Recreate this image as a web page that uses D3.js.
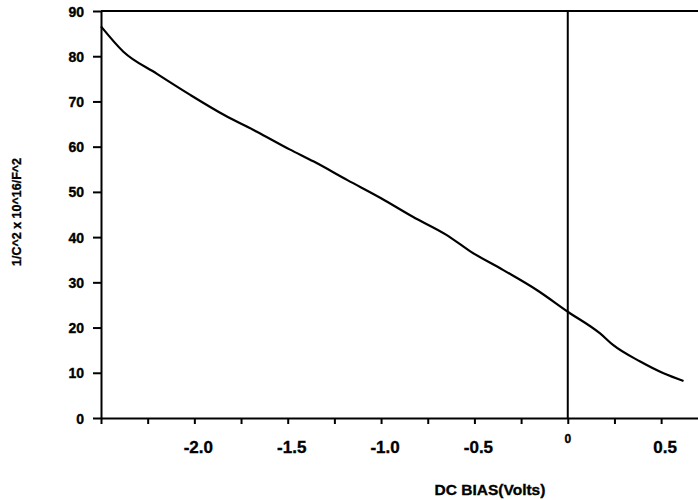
<!DOCTYPE html>
<html><head><meta charset="utf-8">
<script src="https://cdn.jsdelivr.net/npm/d3@7"></script>
<style>
body{margin:0;background:#fff}
text{font-family:"Liberation Sans",Arial,sans-serif;font-weight:bold;fill:#000;stroke:#000;stroke-width:0.35px}
</style></head>
<body>
<svg id="c" width="698" height="500"></svg>
<script>
// DC bias (V) and 1/C^2 (x10^16 F^-2)
const biasVolts = [-2.5, -2.38, -2.2, -2.02, -1.84, -1.665, -1.49, -1.36, -1.18, -1.0, -0.83, -0.65, -0.52, -0.345, -0.166, 0, 0.173, 0.244, 0.388, 0.513, 0.62];
const invCapSq  = [86.6, 81.0, 76.1, 71.4, 67.0, 63.3, 59.4, 56.7, 52.6, 48.6, 44.5, 40.5, 36.8, 32.7, 28.3, 23.5, 18.7, 16.1, 12.5, 9.9, 8.2];

const xTickValues = [-2.5, -2.25, -2.0, -1.75, -1.5, -1.25, -1.0, -0.75, -0.5, -0.25, 0, 0.25, 0.5];
const xLabelValues = [-2.0, -1.5, -1.0, -0.5, 0, 0.5];
const xLabelTexts  = ["-2.0", "-1.5", "-1.0", "-0.5", "0", "0.5"];
const yTickValues = [0, 10, 20, 30, 40, 50, 60, 70, 80, 90];

const xTitle = "DC BIAS(Volts)";
const yTitle = "1/C^2 x 10^16/F^2";

(function () {
const svg = d3.select("#c");
const mLeft = 101, mRight = 698, mTop = 11, mBottom = 418;

const x = d3.scaleLinear().domain([-2.5, 0.6975]).range([mLeft, mRight]);
const y = d3.scaleLinear().domain([0, 90]).range([mBottom, mTop]);

// x axis (ticks only)
const gx = svg.append("g").attr("transform", `translate(0,${mBottom})`)
  .call(d3.axisBottom(x).tickValues(xTickValues).tickSize(6).tickSizeOuter(0).tickFormat(""));
gx.select(".domain").attr("stroke-width", 2);
gx.selectAll(".tick line").attr("stroke-width", 2);

// x labels
svg.append("g").selectAll("text").data(xLabelValues).join("text")
  .attr("x", (d) => x(d) + (d === 0 ? 0 : 4))
  .attr("y", (d) => d === 0 ? 443 : 453)
  .attr("text-anchor", "middle")
  .attr("font-size", (d) => d === 0 ? "12px" : "17px")
  .text((d, i) => xLabelTexts[i]);

// y axis
const gy = svg.append("g").attr("transform", `translate(${mLeft},0)`)
  .call(d3.axisLeft(y).tickValues(yTickValues).tickSize(8).tickSizeOuter(0).tickPadding(9));
gy.select(".domain").attr("stroke-width", 2);
gy.selectAll(".tick line").attr("stroke-width", 2);
gy.selectAll(".tick text").attr("font-size", "14px").attr("dy", "0.36em")
  .style("font-family", '"Liberation Sans",Arial,sans-serif').style("font-weight", "bold");

// top border
svg.append("line").attr("x1", mLeft).attr("x2", mRight).attr("y1", mTop).attr("y2", mTop)
  .attr("stroke", "#000").attr("stroke-width", 2);

// zero bias vertical line
svg.append("line").attr("x1", x(0)).attr("x2", x(0)).attr("y1", y(90)).attr("y2", y(0))
  .attr("stroke", "#000").attr("stroke-width", 2);

// curve
const pts = biasVolts.map((v, i) => [v, invCapSq[i]]);
svg.append("path").datum(pts)
  .attr("fill", "none").attr("stroke", "#000").attr("stroke-width", 2.2)
  .attr("d", d3.line().x((d) => x(d[0])).y((d) => y(d[1])).curve(d3.curveMonotoneX));

// titles
svg.append("text").attr("x", 490).attr("y", 495).attr("text-anchor", "middle")
  .attr("font-size", "15.5px").text(xTitle);
svg.append("text").attr("transform", "translate(21,212) rotate(-90)")
  .attr("text-anchor", "middle").attr("font-size", "12.5px").text(yTitle);
})();
</script>
</body></html>
